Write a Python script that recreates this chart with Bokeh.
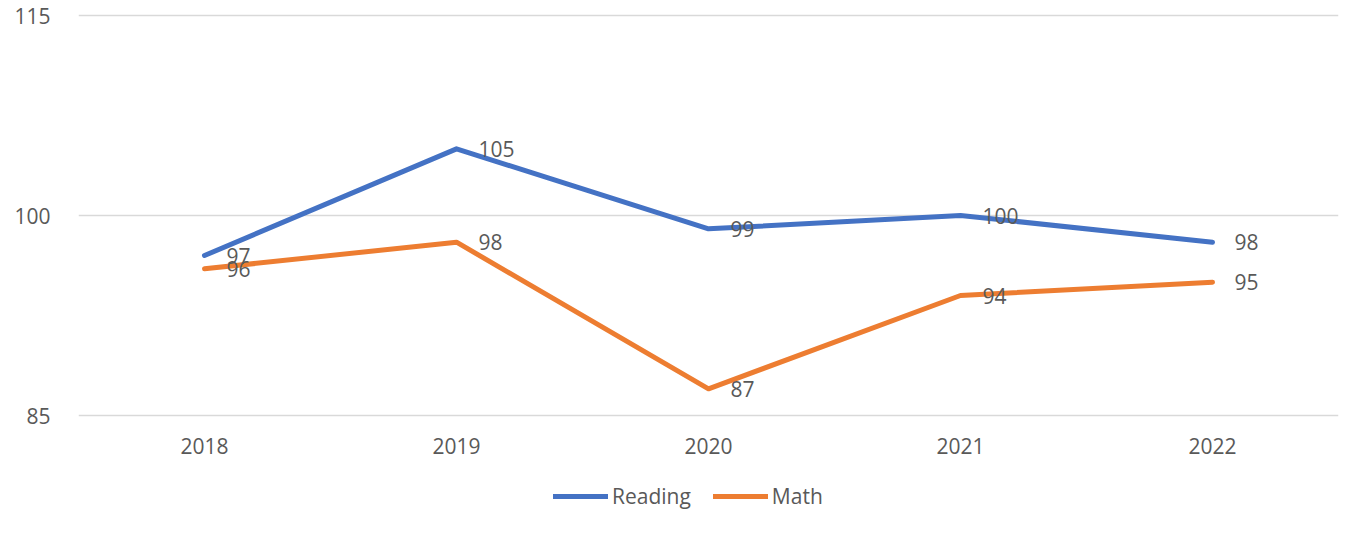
from bokeh.plotting import figure
from bokeh.models import ColumnDataSource, FactorRange, Range1d, Legend, LegendItem, FixedTicker
from bokeh.core.properties import value
from bokeh.embed import file_html
from bokeh.resources import INLINE

years = ["2018", "2019", "2020", "2021", "2022"]
reading = [97, 105, 99, 100, 98]
math = [96, 98, 87, 94, 95]
y_ticks = [85, 100, 115]

FONT = "Open Sans"
TXT = "#595959"
BLUE = "#4472C4"
ORANGE = "#ED7D31"

# frame spans from page y=8 to 538; 115 sits near y=15 and 85 at y=415
ppu = 400 / 30
y_top = 115 + 7 / ppu
y_bot = y_top - 530 / ppu
p = figure(width=1367, height=538, output_backend="svg", toolbar_location=None,
           x_range=FactorRange(*years), y_range=Range1d(y_bot, y_top),
           min_border_left=78, min_border_right=29, min_border_top=8, min_border_bottom=0)
p.outline_line_color = None
p.background_fill_color = "white"
p.border_fill_color = "white"

p.xgrid.grid_line_color = None
p.ygrid.grid_line_color = "#D9D9D9"
p.ygrid.grid_line_width = 1.5
p.yaxis.ticker = FixedTicker(ticks=y_ticks)
p.xaxis.visible = False

ax = p.yaxis[0]
ax.axis_line_color = None
ax.major_tick_line_color = None
ax.minor_tick_line_color = None
ax.major_label_text_font = FONT
ax.major_label_text_font_size = "21px"
ax.major_label_text_color = TXT
ax.major_label_standoff = 22

src = ColumnDataSource(dict(x=years, r=reading, m=math,
                            rl=[str(v) for v in reading], ml=[str(v) for v in math],
                            base=[min(y_ticks)] * len(years)))

lr = p.line("x", "r", source=src, line_color=BLUE, line_width=5, line_join="round", line_cap="round")
lm = p.line("x", "m", source=src, line_color=ORANGE, line_width=5, line_join="round", line_cap="round")

for col, lab in (("r", "rl"), ("m", "ml")):
    p.text("x", col, text=lab, source=src, x_offset=22, text_baseline="middle", text_align="left",
           text_font=value(FONT), text_font_size="21px", text_color=TXT)

# category labels (x axis)
p.text("x", "base", text="x", source=src, y_offset=30, text_baseline="middle", text_align="center",
       text_font=value(FONT), text_font_size="21px", text_color=TXT)

legend = Legend(items=[LegendItem(label="Reading", renderers=[lr]), LegendItem(label="Math", renderers=[lm])],
                orientation="horizontal", location=(475, 28),
                glyph_width=55, glyph_height=22, label_standoff=4, spacing=22,
                padding=0, margin=0, border_line_color=None, background_fill_alpha=0,
                label_text_font=FONT, label_text_font_size="21px", label_text_color=TXT)
p.add_layout(legend, "center")

open("out.html", "w").write(file_html(p, INLINE))
